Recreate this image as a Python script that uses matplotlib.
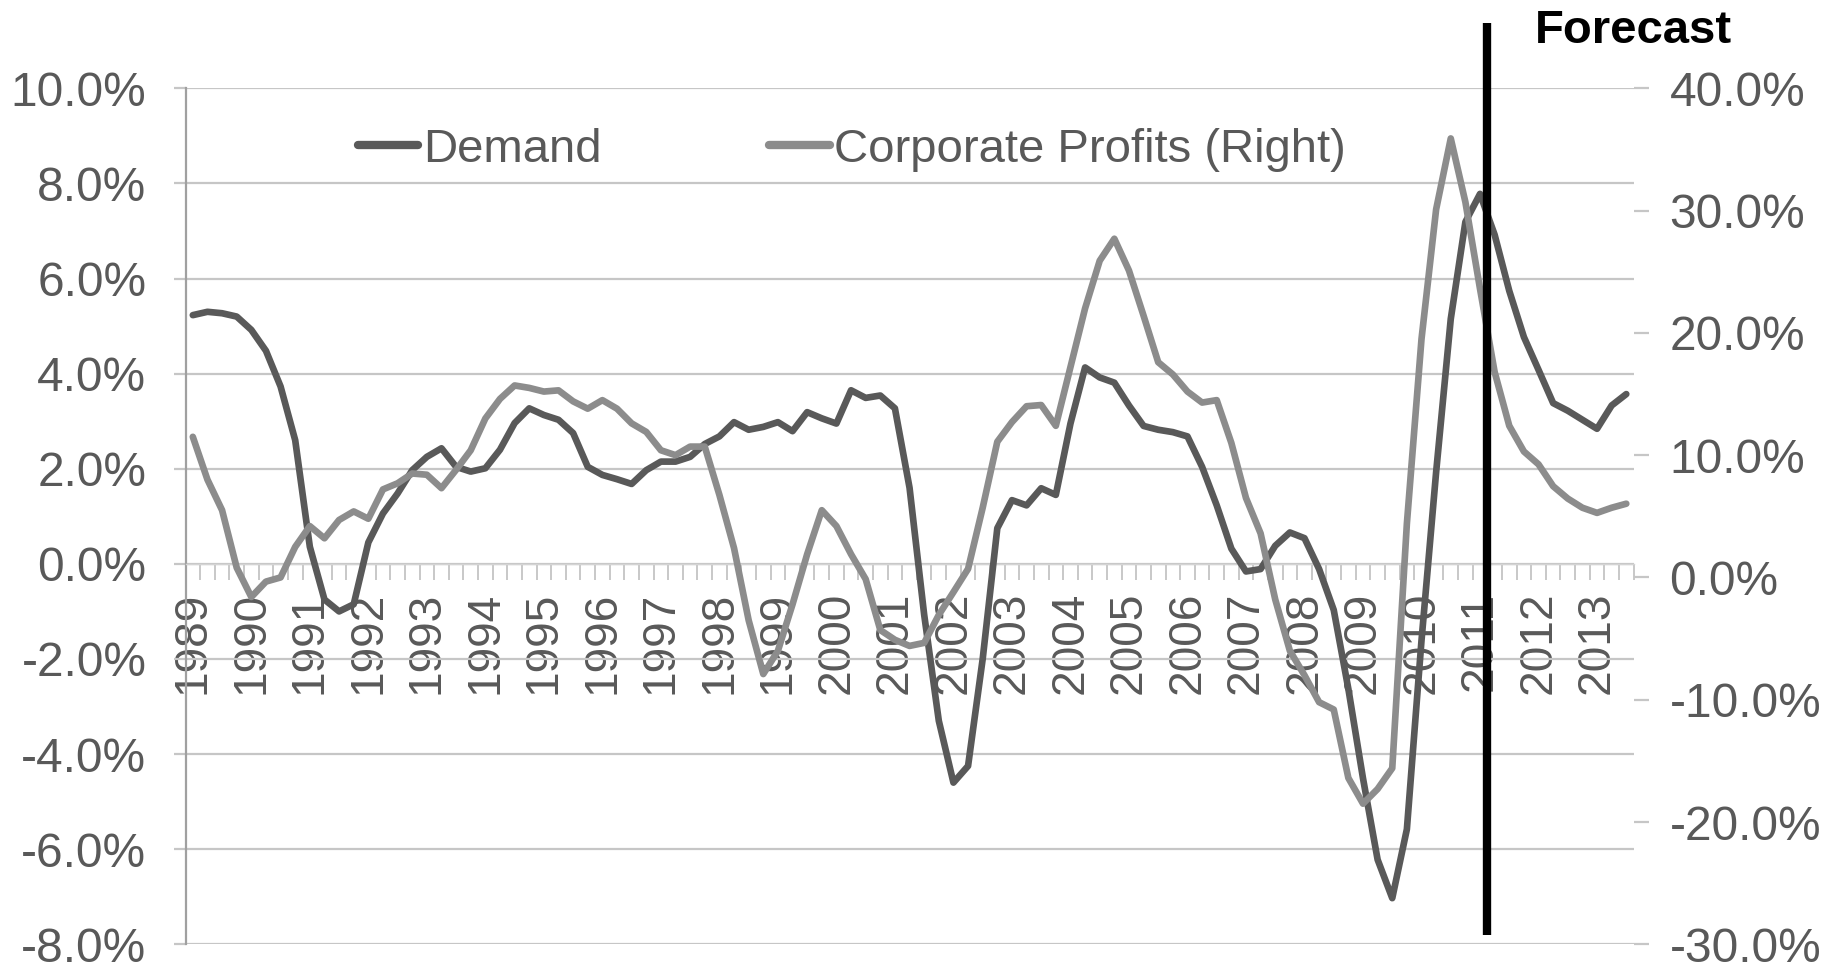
import matplotlib
matplotlib.use('Agg')
import matplotlib.pyplot as plt
import numpy as np
from matplotlib.ticker import FuncFormatter

plt.rcParams['font.family'] = ['Liberation Sans', 'DejaVu Sans']

# ---- data (quarterly, 1989Q1 .. 2013Q3) ----
demand = [
    5.23, 5.30, 5.27, 5.20,    # 1989
    4.92, 4.48, 3.73, 2.60,    # 1990
    0.36, -0.75, -1.00, -0.85, # 1991
    0.45, 1.06, 1.48, 1.97,    # 1992
    2.25, 2.43, 2.04, 1.94,    # 1993
    2.01, 2.40, 2.96, 3.27,    # 1994
    3.13, 3.03, 2.75, 2.04,    # 1995
    1.87, 1.78, 1.68, 1.97,    # 1996
    2.15, 2.15, 2.25, 2.52,    # 1997
    2.68, 2.98, 2.82, 2.88,    # 1998
    2.98, 2.79, 3.19, 3.06,    # 1999
    2.95, 3.65, 3.49, 3.54,    # 2000
    3.27, 1.60, -1.07, -3.30,  # 2001
    -4.60, -4.25, -2.00, 0.75, # 2002
    1.34, 1.23, 1.59, 1.45,    # 2003
    2.95, 4.13, 3.92, 3.81,    # 2004
    3.33, 2.90, 2.82, 2.77,    # 2005
    2.68, 2.04, 1.23, 0.32,    # 2006
    -0.16, -0.11, 0.38, 0.66,  # 2007
    0.54, -0.11, -0.97, -2.63, # 2008
    -4.51, -6.22, -7.03, -5.58,# 2009
    -1.61, 1.93, 5.15, 7.19,   # 2010
    7.78, 6.92, 5.74, 4.77,    # 2011
    4.08, 3.38, 3.22, 3.03,    # 2012
    2.84, 3.33, 3.57,          # 2013
]

profits = [
    11.5, 8.0, 5.5, 0.8,       # 1989
    -1.6, -0.34, 0.0, 2.5,     # 1990
    4.2, 3.2, 4.7, 5.4,        # 1991
    4.8, 7.2, 7.7, 8.5,        # 1992
    8.4, 7.3, 8.8, 10.4,       # 1993
    13.0, 14.6, 15.7, 15.5,    # 1994
    15.2, 15.3, 14.4, 13.8,    # 1995
    14.5, 13.8, 12.6, 11.9,    # 1996
    10.4, 10.0, 10.7, 10.7,    # 1997
    6.75, 2.4, -3.5, -7.9,     # 1998
    -6.0, -2.2, 1.9, 5.5,      # 1999
    4.2, 1.9, -0.14, -4.3,     # 2000
    -5.1, -5.6, -5.35, -3.06,  # 2001
    -1.2, 0.7, 5.7, 11.1,      # 2002
    12.7, 14.0, 14.1, 12.4,    # 2003
    17.2, 22.0, 25.9, 27.7,    # 2004
    25.1, 21.4, 17.6, 16.6,    # 2005
    15.2, 14.3, 14.5, 11.0,    # 2006
    6.5, 3.6, -1.8, -6.0,      # 2007
    -8.0, -10.2, -10.8, -16.4, # 2008
    -18.5, -17.3, -15.6, 4.4,  # 2009
    19.5, 30.1, 35.9, 30.7,    # 2010
    23.6, 16.8, 12.4, 10.3,    # 2011
    9.25, 7.46, 6.45, 5.70,    # 2012
    5.28, 5.70, 6.03,          # 2013
]

year_labels = ['1989', '1990', '1991', '1992', '1993', '1994', '1995', '1996',
               '1997', '1998', '1999', '2000', '2001', '2002', '2003', '2004',
               '2005', '2006', '2007', '2008', '2009', '2010', '2011', '2012',
               '2013']
left_ticks = [-8, -6, -4, -2, 0, 2, 4, 6, 8, 10]
right_ticks = [-30, -20, -10, 0, 10, 20, 30, 40]
forecast_pos = 88.5   # between 2011Q1 and 2011Q2 (category units)

# ---- styling ----
C_DEMAND = '#595959'
C_PROFIT = '#8c8c8c'
C_TEXT = '#595959'
C_GRID = '#c6c6c6'
LW = 4.8
TICK_FS = 34.5

W, H = 1843, 965
fig = plt.figure(figsize=(W / 100, H / 100), dpi=100)
left_px, right_px, top_px, bot_px = 185.5, 1633.6, 88.3, 944.3
ax = fig.add_axes([left_px / W, 1 - bot_px / H, (right_px - left_px) / W, (bot_px - top_px) / H])

n = len(demand)
x = np.arange(n)
ax.plot(x, demand, color=C_DEMAND, lw=LW, solid_joinstyle='round',
        solid_capstyle='round', label='Demand', zorder=3)

ax.set_xlim(-0.5, n - 0.5)
ax.set_ylim(-8, 10)
ax.set_yticks(left_ticks)
ax.yaxis.set_major_formatter(FuncFormatter(lambda v, p: f'{v:.1f}%'))
ax.grid(axis='y', color=C_GRID, lw=1.6)
ax.set_axisbelow(True)

for s in ['top', 'right']:
    ax.spines[s].set_visible(False)
ax.spines['left'].set_color('#a0a0a0')
ax.spines['left'].set_linewidth(1.6)
ax.spines['bottom'].set_position(('data', 0))
ax.spines['bottom'].set_color('#d4d4d4')
ax.spines['bottom'].set_linewidth(1.0)

ax.tick_params(axis='y', direction='out', length=8.6, width=1.6, color=C_GRID,
               pad=19.5, labelsize=TICK_FS, labelcolor=C_TEXT)

label_pos = np.arange(0, n, 4)
ax.set_xticks(label_pos)
ax.set_xticklabels(year_labels, rotation=90)
ax.tick_params(axis='x', which='major', length=0, pad=20, labelsize=33.2,
               labelcolor=C_TEXT)
ax.set_xticks(np.arange(-0.5, n, 1), minor=True)
ax.tick_params(axis='x', which='minor', direction='out', length=11.5, width=1.4,
               color='#c8c8c8')

ax2 = ax.twinx()
ax2.plot(x, profits, color=C_PROFIT, lw=LW, solid_joinstyle='round',
         solid_capstyle='round', label='Corporate Profits (Right)', zorder=3)
ax2.set_ylim(-30, 40)
ax2.set_yticks(right_ticks)
ax2.yaxis.set_major_formatter(FuncFormatter(lambda v, p: f'{v:.1f}%'))
for s in ['top', 'right', 'left', 'bottom']:
    ax2.spines[s].set_visible(False)
ax2.tick_params(axis='y', direction='out', length=10.8, width=1.6, color=C_GRID,
                pad=15, labelsize=TICK_FS, labelcolor=C_TEXT)

# Forecast divider
ax2.axvline(forecast_pos, ymin=0.0114, ymax=1.076, color='black', lw=6,
            solid_capstyle='butt', clip_on=False, zorder=10)
fig.text(1535 / W, 1 - 43 / H, 'Forecast', fontsize=34, fontweight='bold',
         color='black', ha='left', va='baseline')

# Legend
h1, l1 = ax.get_legend_handles_labels()
h2, l2 = ax2.get_legend_handles_labels()
leg = ax2.legend(h1 + h2, l1 + l2, ncol=2, frameon=False, loc='center left',
                 bbox_to_anchor=(358 / W, 1 - 150 / H), bbox_transform=fig.transFigure,
                 fontsize=34, handlelength=1.28, handletextpad=0.1,
                 columnspacing=3.55, borderpad=0, borderaxespad=0)
for t in leg.get_texts():
    t.set_color(C_TEXT)
for lh in leg.get_lines():
    lh.set_linewidth(6)
    lh.set_solid_capstyle('round')

fig.savefig('out.png', dpi=100)
